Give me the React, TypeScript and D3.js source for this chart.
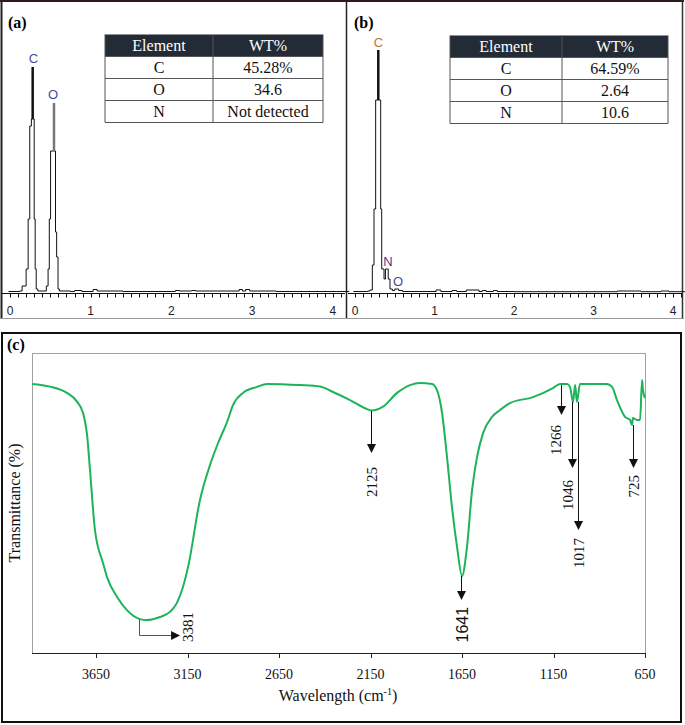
import React from "react";
import * as d3 from "d3";

const W = 685;
const H = 725;
const SERIF = "'Liberation Serif', 'Times New Roman', serif";
const SANS = "'Liberation Sans', Arial, sans-serif";

// ---------- EDS (a) ----------
const edsAEnergy = [-0.02, 0.12, 0.15, 0.2, 0.225, 0.245, 0.265, 0.3, 0.312, 0.325, 0.345, 0.45, 0.472, 0.487, 0.503, 0.564, 0.578, 0.595, 0.612, 0.75, 0.8, 0.89, 1.03, 1.08, 1.4, 2.05, 2.1, 2.25, 2.3, 2.7, 2.84, 2.88, 2.92, 2.97, 3.3, 4.05, 4.2];
const edsACounts = [0.5, 1, 6, 23, 73, 166, 173, 73, 23, 3, 1, 6, 23, 73, 141, 60, 35, 3, 1, 0.5, 1.5, 0.5, 2.5, 1, 0.5, 1.5, 1, 1.5, 1, 1, 2.5, 1, 2.5, 1, 0.5, 0.5, 0];
const edsAPeakEnergy = [0.281, 0.545];
const edsAPeakTop = [225, 189];
const edsAPeakBase = [173, 141];
const edsAPeakColor = ["#111", "#777"];
const edsALabels = ["C", "O"];
const edsALabelEnergy = [0.291, 0.533];
const edsALabelCount = [229, 193];
const edsALabelColor = ["#3f4f9a", "#3f4f9a"];

// ---------- EDS (b) ----------
const edsBEnergy = [-0.02, 0.16, 0.19, 0.218, 0.239, 0.26, 0.323, 0.336, 0.365, 0.383, 0.418, 0.44, 0.47, 0.5, 0.55, 0.6, 1.02, 1.08, 1.22, 1.28, 1.4, 1.56, 1.6, 1.65, 1.74, 1.79, 2.0, 3.3, 3.6, 3.85, 3.95, 4.2];
const edsBCounts = [0.5, 1, 2, 27, 83, 192, 83, 23, 13, 23, 13, 3, 1.5, 3, 1.5, 0.5, 2, 0.5, 1.5, 0.5, 2, 0.5, 1.5, 0.5, 1.5, 0.5, 0.3, 1, 0.3, 1, 0.3, 0];
const edsBPeakEnergy = [0.293];
const edsBPeakTop = [242];
const edsBPeakBase = [192];
const edsBPeakColor = ["#111"];
const edsBLabels = ["C", "N", "O"];
const edsBLabelEnergy = [0.296, 0.415, 0.541];
const edsBLabelCount = [245, 26, 6];
const edsBLabelColor = ["#b8783a", "#4b3c8c", "#3f4f9a"];

const edsTickLabels = [0, 1, 2, 3, 4];

// ---------- Tables ----------
const tableHeader = ["Element", "WT%"];
const tableElements = ["C", "O", "N"];
const wtA = ["45.28%", "34.6", "Not detected"];
const wtB = ["64.59%", "2.64", "10.6"];

// ---------- FTIR (c) ----------
const ftirWn = [4000, 3902, 3809, 3754, 3721, 3699, 3683, 3656, 3612, 3590, 3535, 3481, 3410, 3372, 3300, 3246, 3208, 3175, 3147, 3082, 3027, 2983, 2934, 2901, 2847, 2770, 2716, 2535, 2426, 2355, 2262, 2169, 2142, 2082, 2005, 1934, 1880, 1814, 1787, 1759, 1732, 1705, 1677, 1650, 1623, 1595, 1568, 1535, 1486, 1442, 1388, 1262, 1153, 1114, 1076, 1060, 1043, 1032, 1022, 1005, 896, 858, 830, 803, 759, 732, 721, 716, 694, 677, 666, 661, 650];
const ftirT = [89.7, 88.8, 86.7, 83.8, 80, 72.7, 61, 41, 30, 25.3, 18.7, 14.3, 11.3, 11, 12, 13.7, 16.7, 22, 28.7, 51, 62.7, 70, 77, 82.7, 86.7, 88.7, 89.7, 89.3, 88.8, 87, 84.3, 81.3, 80.8, 82.1, 86.7, 89.3, 90, 89.7, 87.7, 80, 65.3, 48.7, 35.3, 25.7, 35.3, 54.3, 65.3, 73.3, 78.7, 81, 83.3, 85.3, 88.3, 89.7, 89.7, 88.7, 83.7, 89.3, 83.7, 89.7, 89.7, 89.7, 88.7, 84.3, 78.7, 77.7, 76, 78.3, 77.7, 77.7, 91, 87.7, 85];
const ftirTicks = [3650, 3150, 2650, 2150, 1650, 1150, 650];

const markLabels = ["2125", "1266", "1046", "1017", "725", "1641"];
const markWn = [2147, 1109, 1050, 1018, 717, 1655];
const markFrom = [80.7, 89.3, 83.7, 83.7, 76, 25.7];
const markTo = [66.7, 79.3, 61.7, 41, 61.7, 17.7];
const mark3381 = { label: "3381", wn: 3415, from: 11.3, to: 6, endWn: 3191 };

function EdsPanel(props: {
  x0: number; x4: number; left: number; right: number; tag: string;
  energy: number[]; counts: number[];
  peakE: number[]; peakTop: number[]; peakBase: number[]; peakColor: string[];
  labels: string[]; labelE: number[]; labelC: number[]; labelColor: string[];
}) {
  const x = d3.scaleLinear().domain([0, 4]).range([props.x0, props.x4]);
  const y = d3.scaleLinear().domain([0, 250]).range([292, 42]);
  const pts = props.energy.map((e, i) => [x(e), y(props.counts[i])] as [number, number]);
  const line = d3.line().curve(d3.curveStepAfter)(pts) || "";
  const ticks = d3.range(-2, 45).map((i) => i / 10).filter((e) => x(e) >= props.left + 1 && x(e) <= props.right - 1);
  return (
    <g>
      <text x={props.left + 6} y={28} fontFamily={SERIF} fontWeight="bold" fontSize={16}>{props.tag}</text>
      <line x1={props.left} x2={props.right} y1={293.5} y2={293.5} stroke="#111" strokeWidth={1} />
      {ticks.map((t, i) => (
        <line key={i} x1={Math.round(x(t)) + 0.5} x2={Math.round(x(t)) + 0.5} y1={293.5} y2={297.5} stroke="#111" strokeWidth={1} />
      ))}
      {edsTickLabels.map((t) => (
        <text key={t} x={x(t)} y={314.5} textAnchor="middle" fontFamily={SANS} fontSize={12} fill="#222">{t}</text>
      ))}
      <path d={line} fill="none" stroke="#111" strokeWidth={1} />
      {props.peakE.map((e, i) => (
        <line key={i} x1={x(e)} x2={x(e)} y1={y(props.peakTop[i])} y2={y(props.peakBase[i])} stroke={props.peakColor[i]} strokeWidth={2.5} />
      ))}
      {props.labels.map((l, i) => (
        <text key={l} x={x(props.labelE[i])} y={y(props.labelC[i])} textAnchor="middle" fontFamily={SANS} fontSize={13} fill={props.labelColor[i]}>{l}</text>
      ))}
    </g>
  );
}

function Table(props: { xs: number[]; y0: number; rowH: number; values: string[] }) {
  const { xs, y0, rowH, values } = props;
  const rows = [tableHeader, ...tableElements.map((e, i) => [e, values[i]])];
  const w = xs[2] - xs[0];
  return (
    <g fontFamily={SERIF} fontSize={16}>
      <rect x={xs[0]} y={y0} width={w} height={rowH} fill="#232b36" />
      {rows.map((r, ri) => (
        <g key={ri}>
          {r.map((c, ci) => (
            <text key={ci} x={(xs[ci] + xs[ci + 1]) / 2} y={y0 + ri * rowH + rowH / 2 + 5.5} textAnchor="middle" fill={ri === 0 ? "#fff" : "#111"}>{c}</text>
          ))}
        </g>
      ))}
      {d3.range(1, 5).map((i) => (
        <line key={i} x1={xs[0]} x2={xs[2]} y1={y0 + i * rowH} y2={y0 + i * rowH} stroke="#555" strokeWidth={1} />
      ))}
      <line x1={xs[0]} x2={xs[0]} y1={y0} y2={y0 + 4 * rowH} stroke="#555" />
      <line x1={xs[2]} x2={xs[2]} y1={y0} y2={y0 + 4 * rowH} stroke="#555" />
      <line x1={xs[1]} x2={xs[1]} y1={y0} y2={y0 + 4 * rowH} stroke="#555" />
    </g>
  );
}

function Ftir() {
  const left = 32, right = 645, top = 353, bottom = 653;
  const x = d3.scaleLinear().domain([4000, 650]).range([left, right]);
  const y = d3.scaleLinear().domain([0, 100]).range([bottom, top]);
  const pts = ftirWn.map((w, i) => [x(w), y(ftirT[i])] as [number, number]);
  const path = d3.line().curve(d3.curveMonotoneX)(pts) || "";
  const gaps = [14, 10, 12, 8, 7, 7];
  const dxs = [0, -6, -5, 0, 0, 1];
  const arrowDown = (cx: number, tip: number) => `M${cx - 4.5},${tip - 9}L${cx + 4.5},${tip - 9}L${cx},${tip}Z`;
  const m = mark3381;
  const mx = x(m.wn), my1 = y(m.from), my2 = y(m.to), mex = x(m.endWn);
  return (
    <g>
      <rect x={2} y={333} width={679} height={389} fill="none" stroke="#111" strokeWidth={2} />
      <text x={7} y={350} fontFamily={SERIF} fontWeight="bold" fontSize={16}>(c)</text>
      <line x1={left + 0.5} x2={left + 0.5} y1={top} y2={bottom} stroke="#a0a0a0" />
      <line x1={right + 0.5} x2={right + 0.5} y1={top} y2={bottom} stroke="#a0a0a0" />
      <line x1={left} x2={right} y1={top + 0.5} y2={top + 0.5} stroke="#a0a0a0" />
      <line x1={left} x2={right + 1} y1={bottom + 0.5} y2={bottom + 0.5} stroke="#222" />
      {ftirTicks.map((t) => (
        <g key={t}>
          <line x1={Math.round(x(t)) + 0.5} x2={Math.round(x(t)) + 0.5} y1={bottom} y2={bottom + 5} stroke="#222" />
          <text x={x(t)} y={679} textAnchor="middle" fontFamily={SERIF} fontSize={14} fill="#111">{t}</text>
        </g>
      ))}
      <text x={338} y={701} textAnchor="middle" fontFamily={SERIF} fontSize={16} fill="#111">
        Wavelength (cm<tspan dy={-6} fontSize={10}>-1</tspan><tspan dy={6}>)</tspan>
      </text>
      <text transform={`translate(14,${(top + bottom) / 2}) rotate(-90)`} textAnchor="middle" dominantBaseline="central" fontFamily={SERIF} fontSize={16} fill="#111">Transmittance (%)</text>
      <path d={path} fill="none" stroke="#1db35a" strokeWidth={2} strokeLinejoin="round" />
      {markLabels.map((l, i) => {
        const cx = Math.round(x(markWn[i])) + 0.5;
        const tip = y(markTo[i]);
        const sans = l === "1641";
        return (
          <g key={l}>
            <line x1={cx} x2={cx} y1={y(markFrom[i])} y2={tip - 8} stroke="#111" strokeWidth={1} />
            <path d={arrowDown(cx, tip)} fill="#111" />
            <text transform={`translate(${cx + dxs[i]},${tip + gaps[i]}) rotate(-90)`} textAnchor="end" dominantBaseline="central" fontFamily={sans ? SANS : SERIF} fontSize={sans ? 16 : 15} fill="#111">{l}</text>
          </g>
        );
      })}
      <path d={`M${Math.round(mx) + 0.5},${my1}L${Math.round(mx) + 0.5},${Math.round(my2) + 0.5}L${mex - 8},${Math.round(my2) + 0.5}`} fill="none" stroke="#555" strokeWidth={1} />
      <path d={`M${mex - 9},${Math.round(my2) + 0.5 - 4.5}L${mex - 9},${Math.round(my2) + 0.5 + 4.5}L${mex},${Math.round(my2) + 0.5}Z`} fill="#111" />
      <text transform={`translate(${mex + 8},${612}) rotate(-90)`} textAnchor="end" dominantBaseline="central" fontFamily={SERIF} fontSize={15} fill="#111">{m.label}</text>
    </g>
  );
}

export default function App() {
  return (
    <svg width={W} height={H} viewBox={`0 0 ${W} ${H}`} style={{ position: "absolute", left: 0, top: 0, background: "#fff" }}>
      <rect x={0} y={0} width={W} height={H} fill="#fff" />
      {/* top frames */}
      <line x1={0} x2={684} y1={1} y2={1} stroke="#2a1a1a" strokeWidth={2} />
      <line x1={1.5} x2={1.5} y1={0} y2={319} stroke="#222" strokeWidth={2} />
      <line x1={346.5} x2={346.5} y1={0} y2={319} stroke="#222" strokeWidth={1.5} />
      <line x1={682.5} x2={682.5} y1={0} y2={319} stroke="#333" strokeWidth={1.5} />
      <line x1={0} x2={684} y1={318.5} y2={318.5} stroke="#999" strokeWidth={1} />
      <EdsPanel x0={10} x4={332.8} left={2} right={345} tag="(a)"
        energy={edsAEnergy} counts={edsACounts}
        peakE={edsAPeakEnergy} peakTop={edsAPeakTop} peakBase={edsAPeakBase} peakColor={edsAPeakColor}
        labels={edsALabels} labelE={edsALabelEnergy} labelC={edsALabelCount} labelColor={edsALabelColor} />
      <EdsPanel x0={355} x4={673} left={348} right={682} tag="(b)"
        energy={edsBEnergy} counts={edsBCounts}
        peakE={edsBPeakEnergy} peakTop={edsBPeakTop} peakBase={edsBPeakBase} peakColor={edsBPeakColor}
        labels={edsBLabels} labelE={edsBLabelEnergy} labelC={edsBLabelCount} labelColor={edsBLabelColor} />
      <Table xs={[105, 213, 323]} y0={34.5} rowH={22} values={wtA} />
      <Table xs={[450, 562, 668]} y0={35.5} rowH={22} values={wtB} />
      <Ftir />
    </svg>
  );
}
